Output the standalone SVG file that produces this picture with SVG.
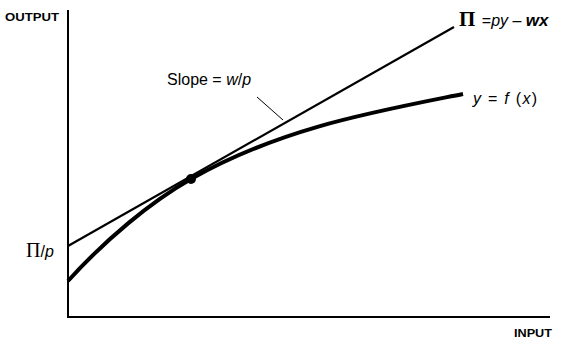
<svg xmlns="http://www.w3.org/2000/svg" width="562" height="341" viewBox="0 0 562 341">
<style>
.ax{stroke:#000;stroke-width:2;fill:none}
.lab{font-family:"Liberation Sans",Arial,sans-serif;fill:#000}
.cap{font-family:"Liberation Sans",Arial,sans-serif;font-weight:bold;font-size:11px;fill:#000}
.pi{font-family:"Liberation Serif","Times New Roman",serif;fill:#000}
</style>
<rect width="562" height="341" fill="#fff"/>
<g id="axes">
<path class="ax" d="M68,10 V317 H550"/>
<text class="cap" x="5" y="21" textLength="54" lengthAdjust="spacingAndGlyphs">OUTPUT</text>
<text class="cap" x="514" y="337" textLength="38" lengthAdjust="spacingAndGlyphs">INPUT</text>
</g>
<g id="connectors">
<path id="profit-line" d="M68,246 L454,27" stroke="#000" stroke-width="2.2" fill="none"/>
<path id="production-curve" d="M68,281 C105,240 151,201.7 191,179 C281,128 373,112 463,94" stroke="#000" stroke-width="4" fill="none"/>
<path id="leader" d="M257,97 L283,120" stroke="#000" stroke-width="1" fill="none"/>
</g>
<g id="tangent-point">
<circle cx="191" cy="179" r="5" fill="#000"/>
</g>
<g id="label-slope">
<text class="lab" x="167" y="85" font-size="16">Slope = <tspan font-style="italic">w</tspan>/<tspan font-style="italic">p</tspan></text>
</g>
<g id="label-profit">
<text x="459" y="26"><tspan class="pi" font-size="21" font-weight="bold">Π</tspan><tspan class="lab" font-size="16" dx="2"> =</tspan><tspan class="lab" font-size="16" font-style="italic">py</tspan><tspan class="lab" font-size="16"> – </tspan><tspan class="lab" font-size="17" font-style="italic" font-weight="bold">wx</tspan></text>
</g>
<g id="label-f">
<text class="lab" x="473" y="104" font-size="16" textLength="64"><tspan font-style="italic">y</tspan> = <tspan font-style="italic">f</tspan> (<tspan font-style="italic">x</tspan>)</text>
</g>
<g id="label-intercept">
<text x="26" y="257"><tspan class="pi" font-size="20">Π</tspan><tspan class="lab" font-size="16">/</tspan><tspan class="lab" font-size="16" font-style="italic">p</tspan></text>
</g>
</svg>
